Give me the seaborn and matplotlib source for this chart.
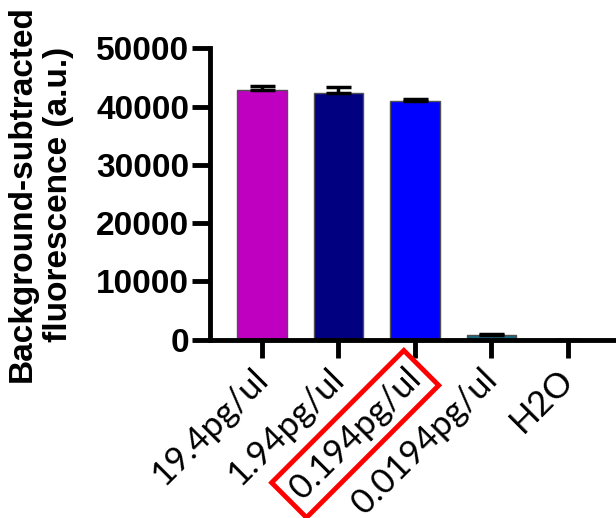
import matplotlib
matplotlib.use('Agg')
import matplotlib.pyplot as plt
import matplotlib.transforms as mtrans
import pandas as pd
import seaborn as sns

samples = ['19.4pg/ul', '1.94pg/ul', '0.194pg/ul', '0.0194pg/ul', 'H2O']
means = [42900, 42300, 40900, 750, 40]
sem = [650, 1000, 350, 250, 0]
colors = ['#C000C0', '#000080', '#0000FF', '#1B6A80', '#FFFFFF']
highlight = '0.194pg/ul'

sns.set_style('ticks', {'text.color': 'black', 'axes.labelcolor': 'black',
                        'xtick.color': 'black', 'ytick.color': 'black',
                        'axes.edgecolor': 'black'})
plt.rcParams['font.family'] = ['Liberation Sans', 'DejaVu Sans']

df = pd.DataFrame({'sample': samples, 'signal': means})

fig = plt.figure(figsize=(6.16, 5.18), dpi=100)
ax = fig.add_axes([0.341, 0.344, 0.659, 0.563])
sns.barplot(data=df, x='sample', y='signal', hue='sample', palette=colors,
            saturation=1, width=0.65, edgecolor='#505050', linewidth=1,
            legend=False, ax=ax)
# GraphPad style: only the upper half of the error bar
ax.errorbar(range(len(samples)), means, yerr=[[0] * len(sem), sem], fmt='none',
            ecolor='black', elinewidth=2.5, capsize=9, capthick=2.5, zorder=3)

ax.set_xlim(-0.68, 4.63)
ax.set_ylim(0, 50000)
ax.set_yticks(range(0, 50001, 10000))
ax.set_xlabel('')
ax.set_ylabel('Background-subtracted\nfluorescence (a.u.)', fontsize=24,
              fontweight='bold', labelpad=16, linespacing=1.2)

sns.despine(ax=ax)
for side in ['left', 'bottom']:
    ax.spines[side].set_linewidth(3.5)
ax.tick_params(axis='both', length=13, width=3.5, direction='out')
ax.tick_params(axis='y', labelsize=24, pad=2)
for lab in ax.get_yticklabels():
    lab.set_fontweight('bold')

ax.set_xticks(range(len(samples)))
ax.set_xticklabels(samples, rotation=45, ha='right', va='top',
                   rotation_mode='anchor', fontsize=25, family='Lato')
shift = mtrans.ScaledTranslation(-8 / 72, 0, fig.dpi_scale_trans)
for lab in ax.get_xticklabels():
    lab.set_transform(lab.get_transform() + shift)
    if lab.get_text() == highlight:
        lab.set_bbox(dict(boxstyle='square,pad=0.25', fc='none', ec='red', lw=3.5))

fig.savefig('out.png', dpi=100)
